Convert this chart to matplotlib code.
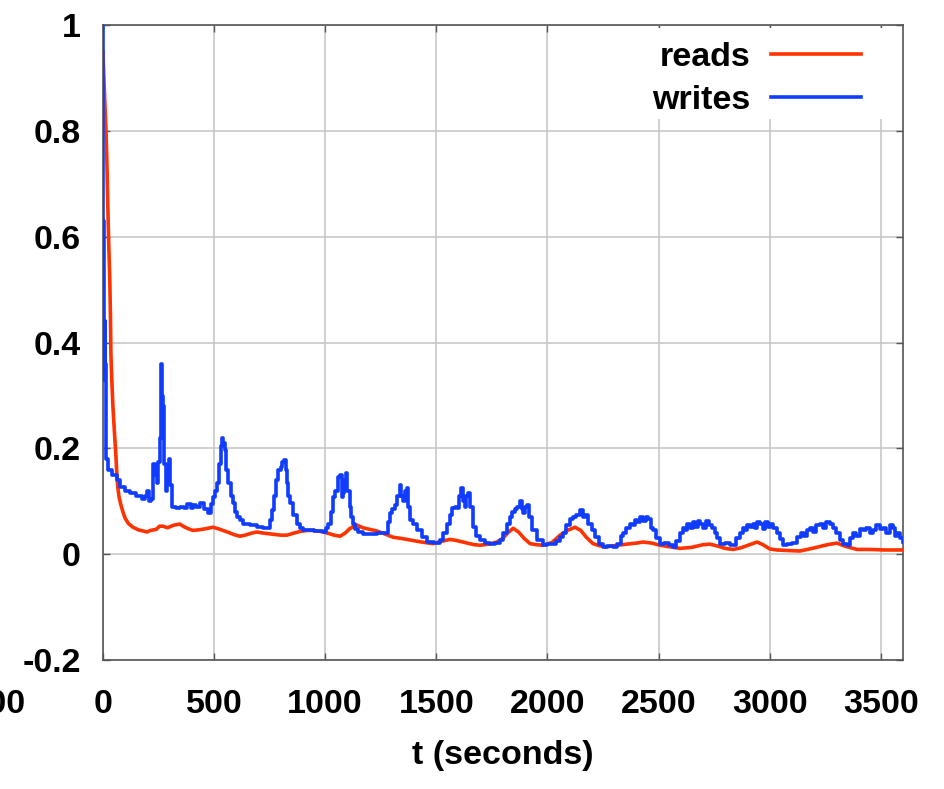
"""Read/write share over one hour, gnuplot-like look."""
import matplotlib

matplotlib.use("Agg")
import matplotlib.pyplot as plt
from matplotlib.patches import Rectangle

# writes: (t seconds, value)
writes_t = [
    0, 2, 4, 6, 8, 10, 12, 13, 16, 25, 40, 62, 76, 100, 121, 150, 174, 190, 198, 206,
    215, 226, 235, 242, 250, 256, 261, 266, 271, 277, 283, 290, 296, 302, 309, 330, 346, 365, 380, 395,
    405, 420, 436, 455, 473, 485, 497, 505, 513, 522, 530, 535, 542, 549, 556, 563, 575, 585, 595, 603,
    615, 630, 660, 693, 720, 738, 750, 760, 770, 780, 788, 800, 808, 815, 822, 828, 835, 842, 855, 873,
    885, 900, 950, 990, 1005, 1012, 1025, 1035, 1045, 1058, 1066, 1075, 1080, 1087, 1094, 1100, 1111, 1118, 1125, 1135,
    1150, 1170, 1200, 1232, 1277, 1285, 1291, 1300, 1314, 1325, 1336, 1343, 1350, 1360, 1368, 1374, 1381, 1395, 1413, 1435,
    1458, 1490, 1516, 1530, 1548, 1560, 1570, 1582, 1593, 1602, 1611, 1620, 1629, 1635, 1642, 1650, 1665, 1680, 1697, 1720,
    1742, 1765, 1787, 1800, 1818, 1830, 1840, 1855, 1865, 1877, 1885, 1890, 1900, 1908, 1915, 1930, 1953, 1980, 2000, 2025,
    2040, 2055, 2070, 2085, 2101, 2115, 2130, 2147, 2160, 2170, 2183, 2200, 2214, 2230, 2250, 2270, 2295, 2315, 2330, 2340,
    2355, 2372, 2385, 2395, 2405, 2417, 2430, 2442, 2453, 2465, 2475, 2490, 2506, 2525, 2545, 2566, 2580, 2597, 2610, 2620,
    2628, 2640, 2655, 2665, 2677, 2687, 2700, 2712, 2725, 2740, 2754, 2765, 2776, 2800, 2820, 2835, 2850, 2866, 2880, 2890,
    2900, 2911, 2925, 2935, 2945, 2957, 2970, 2980, 2992, 3001, 3015, 3032, 3045, 3060, 3080, 3100, 3123, 3140, 3155, 3168,
    3180, 3195, 3210, 3226, 3240, 3255, 3271, 3285, 3300, 3316, 3330, 3348, 3360, 3375, 3390, 3405, 3420, 3435, 3450, 3465,
    3480, 3495, 3510, 3525, 3541, 3555, 3565, 3573, 3585, 3600,
]
writes_v = [
    1.00, 0.63, 0.40, 0.33, 0.44, 0.36, 0.30, 0.20, 0.18, 0.16, 0.15, 0.14, 0.127, 0.12, 0.115, 0.110, 0.105, 0.110, 0.120, 0.100,
    0.105, 0.170, 0.150, 0.134, 0.175, 0.22, 0.36, 0.30, 0.28, 0.17, 0.12, 0.14, 0.18, 0.13, 0.09, 0.088, 0.089, 0.087, 0.095, 0.088,
    0.093, 0.090, 0.096, 0.085, 0.078, 0.095, 0.108, 0.12, 0.134, 0.17, 0.205, 0.219, 0.21, 0.197, 0.16, 0.134, 0.11, 0.096, 0.08, 0.07,
    0.065, 0.058, 0.055, 0.051, 0.050, 0.049, 0.065, 0.083, 0.11, 0.14, 0.159, 0.165, 0.175, 0.178, 0.16, 0.134, 0.11, 0.096, 0.075, 0.058,
    0.05, 0.045, 0.043, 0.042, 0.05, 0.058, 0.08, 0.108, 0.12, 0.146, 0.149, 0.108, 0.115, 0.14, 0.153, 0.12, 0.089, 0.07, 0.058, 0.048,
    0.042, 0.039, 0.038, 0.040, 0.040, 0.06, 0.078, 0.085, 0.093, 0.11, 0.13, 0.11, 0.10, 0.12, 0.125, 0.09, 0.064, 0.058, 0.045, 0.032,
    0.023, 0.022, 0.026, 0.04, 0.058, 0.075, 0.087, 0.09, 0.087, 0.11, 0.125, 0.10, 0.089, 0.11, 0.115, 0.09, 0.051, 0.035, 0.026, 0.022,
    0.02, 0.022, 0.026, 0.04, 0.058, 0.07, 0.08, 0.085, 0.09, 0.10, 0.085, 0.077, 0.09, 0.093, 0.07, 0.045, 0.026, 0.017, 0.02, 0.02,
    0.025, 0.032, 0.04, 0.055, 0.067, 0.07, 0.075, 0.083, 0.07, 0.075, 0.058, 0.045, 0.033, 0.02, 0.013, 0.015, 0.013, 0.02, 0.035, 0.04,
    0.05, 0.058, 0.055, 0.065, 0.06, 0.07, 0.062, 0.07, 0.067, 0.05, 0.045, 0.03, 0.02, 0.022, 0.018, 0.013, 0.025, 0.04, 0.05, 0.045,
    0.058, 0.05, 0.06, 0.052, 0.062, 0.058, 0.05, 0.063, 0.055, 0.05, 0.04, 0.03, 0.02, 0.022, 0.018, 0.017, 0.03, 0.04, 0.05, 0.045,
    0.055, 0.051, 0.058, 0.05, 0.06, 0.058, 0.048, 0.06, 0.052, 0.058, 0.05, 0.04, 0.028, 0.017, 0.02, 0.022, 0.033, 0.04, 0.035, 0.045,
    0.05, 0.042, 0.055, 0.058, 0.05, 0.06, 0.058, 0.05, 0.04, 0.026, 0.02, 0.017, 0.03, 0.04, 0.035, 0.048, 0.045, 0.05, 0.04, 0.045,
    0.055, 0.048, 0.05, 0.04, 0.055, 0.05, 0.035, 0.04, 0.03, 0.023,
]

reads_t = [
    0, 8, 14, 18, 22, 26, 31, 34, 36, 40, 45, 52, 58, 63, 67, 72, 80, 90, 100, 115,
    135, 160, 180, 198, 215, 240, 255, 270, 290, 320, 346, 365, 385, 405, 430, 460, 495, 520, 560, 590,
    616, 640, 670, 693, 720, 760, 800, 828, 860, 887, 920, 945, 980, 1010, 1040, 1067, 1090, 1110, 1130, 1143,
    1170, 1200, 1232, 1270, 1306, 1340, 1380, 1420, 1450, 1485, 1520, 1561, 1590, 1630, 1670, 1697, 1735, 1772, 1800, 1820,
    1846, 1870, 1895, 1922, 1950, 1981, 2020, 2057, 2090, 2124, 2150, 2175, 2205, 2235, 2266, 2300, 2356, 2400, 2430, 2470,
    2506, 2550, 2597, 2650, 2700, 2731, 2770, 2800, 2835, 2870, 2910, 2943, 2970, 3000, 3032, 3080, 3136, 3180, 3211, 3260,
    3303, 3340, 3393, 3450, 3520, 3600,
]
reads_v = [
    0.95, 0.86, 0.80, 0.74, 0.66, 0.59, 0.52, 0.45, 0.38, 0.33, 0.28, 0.23, 0.19, 0.15, 0.127, 0.11, 0.095, 0.08, 0.068, 0.058,
    0.051, 0.046, 0.044, 0.042, 0.045, 0.047, 0.053, 0.053, 0.050, 0.055, 0.057, 0.052, 0.048, 0.045, 0.046, 0.048, 0.051, 0.048, 0.042, 0.037,
    0.034, 0.036, 0.040, 0.042, 0.040, 0.038, 0.036, 0.036, 0.040, 0.043, 0.045, 0.045, 0.043, 0.040, 0.036, 0.034, 0.040, 0.048, 0.053, 0.055,
    0.050, 0.047, 0.044, 0.038, 0.032, 0.030, 0.027, 0.024, 0.022, 0.020, 0.024, 0.028, 0.026, 0.022, 0.018, 0.017, 0.019, 0.023, 0.030, 0.040,
    0.049, 0.042, 0.030, 0.020, 0.018, 0.017, 0.022, 0.036, 0.045, 0.051, 0.045, 0.032, 0.020, 0.016, 0.014, 0.016, 0.019, 0.021, 0.023, 0.021,
    0.017, 0.014, 0.011, 0.013, 0.018, 0.019, 0.015, 0.011, 0.009, 0.012, 0.018, 0.023, 0.018, 0.010, 0.008, 0.007, 0.006, 0.010, 0.013, 0.018,
    0.021, 0.015, 0.009, 0.009, 0.008, 0.008,
]

x_ticks = [0, 500, 1000, 1500, 2000, 2500, 3000, 3500]
y_ticks = [-0.2, 0, 0.2, 0.4, 0.6, 0.8, 1]
y_tick_labels = ["-0.2", "0", "0.2", "0.4", "0.6", "0.8", "1"]

RED = "#ff3300"
BLUE = "#0f3cff"
FS = 24.5

plt.rcParams.update({
    "font.family": ["Liberation Sans", "DejaVu Sans"],
    "font.weight": "bold",
    "font.size": FS,
})

fig = plt.figure(figsize=(9.44, 7.89), dpi=100)
ax = fig.add_axes([0.109, 0.1635, 0.8476, 0.8045])

ax.plot(reads_t, reads_v, color=RED, lw=2.6, label="reads", zorder=3)
ax.plot(writes_t, writes_v, color=BLUE, lw=2.6, label="writes",
        drawstyle="steps-post", zorder=4)

ax.set_xlim(0, 3600)
ax.set_ylim(-0.2, 1)
ax.set_xticks(x_ticks)
ax.set_yticks(y_ticks)
ax.set_yticklabels(y_tick_labels)
ax.tick_params(axis="y", direction="in", length=5, width=1, color="#555555",
               right=True, pad=16, labelsize=FS)
ax.tick_params(axis="x", direction="in", length=5, width=1, color="#555555",
               top=True, pad=21, labelsize=FS)
ax.grid(True, color="#c8c8c8", lw=1.2)
ax.set_axisbelow(True)
for sp in ax.spines.values():
    sp.set_color("#555555")
    sp.set_linewidth(1.2)

# tick label of -500 that is cut off at the left edge
ax.annotate("-500", xy=(-500, -0.2), xytext=(0, -21), textcoords="offset points",
            ha="center", va="top", fontsize=FS, fontweight="bold",
            annotation_clip=False)

ax.set_xlabel("t (seconds)", fontsize=FS, fontweight="bold", labelpad=14)

# white key box over the grid
ax.add_patch(Rectangle((0.645, 0.852), 0.355, 0.143, transform=ax.transAxes,
                       facecolor="white", edgecolor="none", zorder=1.5))

leg = ax.legend(loc="upper right", bbox_to_anchor=(0.9475, 0.974),
                markerfirst=False, handlelength=2.65, frameon=False,
                borderpad=0, borderaxespad=0, labelspacing=0.36,
                handletextpad=0.6, prop={"weight": "bold", "size": FS})

fig.savefig("out.png", dpi=100)
